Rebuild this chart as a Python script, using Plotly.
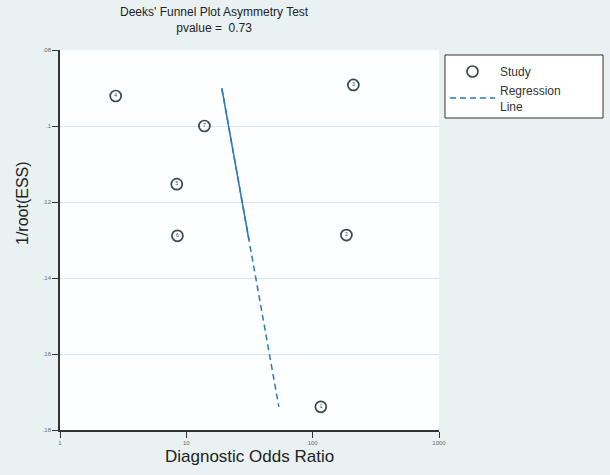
import plotly.graph_objects as go

# Data
study_ids = ["4", "7", "5", "6", "3", "2", "1"]
dor = [2.76, 13.9, 8.4, 8.5, 210, 185, 116]
inv_root_ess = [0.0921, 0.1000, 0.1153, 0.1289, 0.0892, 0.1287, 0.1739]

reg_x = [19.1, 54.0]
reg_y = [0.0901, 0.1739]
reg_solid_x = [19.1, 31.3]
reg_solid_y = [0.0901, 0.130]

y_ticks = [0.08, 0.10, 0.12, 0.14, 0.16, 0.18]
y_tick_labels = [".08", ".1", ".12", ".14", ".16", ".18"]
x_ticks = [1, 10, 100, 1000]
x_tick_labels = ["1", "10", "100", "1000"]

title_text = "Deeks' Funnel Plot Asymmetry Test<br>pvalue =  0.73"

BG = "#e9f1f3"
GRID = "#d6e9f0"
LINE_BLUE = "#2a7ab8"
MARK = "#3a4650"

fig = go.Figure()

fig.add_trace(go.Scatter(
    x=dor, y=inv_root_ess, mode="markers+text", name="Study",
    text=study_ids, textposition="middle center",
    textfont=dict(size=5, color=MARK, family="Liberation Sans"),
    marker=dict(symbol="circle-open", size=11, color=MARK, line=dict(width=1.7, color=MARK)),
))
fig.add_trace(go.Scatter(
    x=reg_x, y=reg_y, mode="lines", name="Regression<br>Line",
    line=dict(color=LINE_BLUE, width=1.5, dash="6px,4px"),
))
fig.add_trace(go.Scatter(
    x=reg_solid_x, y=reg_solid_y, mode="lines", showlegend=False,
    line=dict(color=LINE_BLUE, width=1.5),
))

PW, PH = 379, 380

fig.update_layout(
    width=610, height=475,
    margin=dict(l=60, r=171, t=50, b=45),
    paper_bgcolor=BG, plot_bgcolor="#fdfeff",
    font=dict(family="Liberation Sans, Arial, sans-serif", color="#222"),
    showlegend=True,
    legend=dict(
        x=(445 - 60) / PW, y=1 - (57 - 50) / PH, xanchor="left", yanchor="top",
        bgcolor="rgba(0,0,0,0)", borderwidth=0,
        font=dict(size=12, color="#333"), tracegroupgap=1,
        itemwidth=45,
    ),
    shapes=[
        dict(type="rect", xref="paper", yref="paper",
             x0=(445 - 60) / PW, x1=(603 - 60) / PW,
             y0=1 - (55 - 50) / PH, y1=1 - (118 - 50) / PH,
             line=dict(color="#333", width=1), fillcolor="#ffffff", layer="below"),
    ],
    xaxis=dict(
        type="log", range=[0, 3], tickvals=x_ticks, ticktext=x_tick_labels,
        showgrid=False, zeroline=False,
        showline=True, linecolor="#333", linewidth=1.5,
        ticks="outside", ticklen=6, tickcolor="#333", tickwidth=1.2,
        tickfont=dict(size=6, color="#666"),
    ),
    yaxis=dict(
        range=[0.18, 0.08], tickvals=y_ticks, ticktext=y_tick_labels,
        showgrid=True, gridcolor=GRID, gridwidth=1.2, zeroline=False,
        showline=True, linecolor="#333", linewidth=1.5,
        ticks="outside", ticklen=6, tickcolor="#333", tickwidth=1.2,
        tickfont=dict(size=6, color="#666"),
    ),
    annotations=[
        dict(text=title_text, xref="paper", yref="paper",
             x=(214 - 60) / PW, y=1 + 30 / PH, xanchor="center", yanchor="middle",
             showarrow=False, font=dict(size=12, color="#222")),
        dict(text="1/root(ESS)", xref="paper", yref="paper",
             x=-38 / PW, y=1 - (203 - 50) / PH, xanchor="center", yanchor="middle",
             textangle=-90, showarrow=False, font=dict(size=16, color="#222")),
        dict(text="Diagnostic Odds Ratio", xref="paper", yref="paper",
             x=(249 - 60) / PW, y=-(457 - 430) / PH, xanchor="center", yanchor="middle",
             showarrow=False, font=dict(size=17, color="#222")),
    ],
)

fig.write_html("out.html", config={"displayModeBar": False},
               post_script="document.body.style.margin='0px';document.body.style.overflow='hidden';")
